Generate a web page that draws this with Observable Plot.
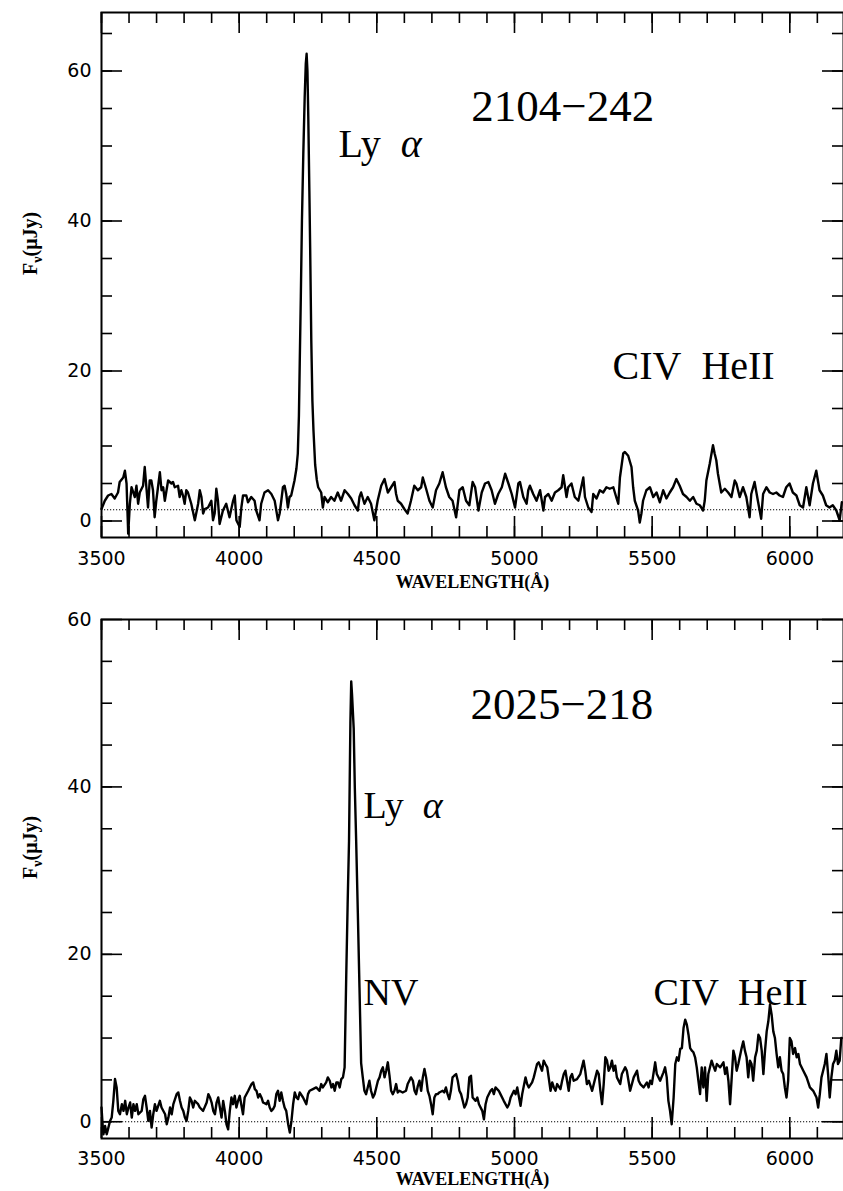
<!DOCTYPE html>
<html><head><meta charset="utf-8">
<script src="https://cdn.jsdelivr.net/npm/d3@7"></script>
<script src="https://cdn.jsdelivr.net/npm/@observablehq/plot@0.6"></script>
<style>
html,body{margin:0;padding:0;background:#fff;overflow:hidden;}
svg{display:block;}
</style></head><body>
<div id="top"></div><div id="bot"></div>
<script>
// ---------- data ----------
const xTickLabels = [3500, 4000, 4500, 5000, 5500, 6000];
const yTickLabels1 = [0, 20, 40, 60];
const yTickLabels2 = [0, 20, 40, 60];

// panel 1: 2104-242
const wave1 = [
3500,3512,3524,3536,3548,3560,3566,3579,3585,3591,
3597,3603,3609,3621,3627,3633,3639,3651,3657,3663,
3669,3675,3681,3687,3693,3699,3712,3718,3724,3730,
3742,3754,3760,3766,3778,3784,3790,3796,3802,3808,
3814,3826,3839,3851,3857,3863,3869,3875,3887,3899,
3905,3911,3917,3923,3929,3941,3953,3965,3978,3984,
3990,4002,4008,4014,4026,4032,4044,4056,4062,4074,
4080,4092,4105,4117,4129,4141,4147,4153,4159,4165,
4171,4177,4183,4189,4201,4208,4213,4217,4220,4224,
4228,4233,4238,4242,4245,4248,4251,4255,4258,4262,
4266,4270,4276,4282,4287,4298,4304,4310,4322,4334,
4346,4358,4370,4383,4395,4407,4419,4431,4437,4443,
4455,4467,4479,4491,4503,4516,4528,4540,4552,4564,
4570,4576,4588,4600,4612,4624,4636,4649,4661,4667,
4679,4691,4703,4715,4727,4739,4751,4763,4775,4788,
4800,4812,4824,4836,4848,4857,4869,4881,4893,4905,
4917,4929,4941,4954,4966,4978,4990,5002,5014,5020,
5032,5044,5050,5056,5068,5080,5093,5105,5111,5123,
5135,5147,5159,5171,5177,5189,5195,5207,5219,5232,
5250,5256,5268,5280,5286,5298,5310,5322,5334,5346,
5359,5371,5377,5383,5395,5401,5413,5425,5431,5437,
5449,5455,5461,5467,5479,5492,5504,5516,5528,5540,
5552,5564,5576,5588,5600,5612,5625,5637,5649,5661,
5673,5685,5691,5697,5709,5721,5727,5733,5739,5751,
5764,5776,5788,5800,5806,5818,5830,5842,5854,5860,
5872,5884,5896,5903,5915,5927,5939,5951,5963,5975,
5987,5999,6011,6024,6036,6048,6060,6072,6084,6096,
6108,6120,6132,6144,6156,6169,6181,6189];
const flux1 = [
1.6,2.7,3.4,3.6,3.0,3.8,5.2,5.8,6.7,5.0,
-1.7,2.3,4.5,3.2,4.7,2.3,3.8,4.7,7.2,4.5,
1.8,5.4,5.4,4.1,0.5,2.7,6.5,4.1,4.5,2.7,
5.4,5.0,5.2,4.5,4.7,3.2,4.1,3.4,2.3,4.1,
3.8,2.3,0.1,2.3,4.1,3.2,1.0,1.6,1.8,2.7,
0.1,1.0,4.3,2.7,-0.4,1.4,2.3,0.5,2.7,3.4,
0.1,-0.8,1.8,3.4,3.4,2.5,3.2,2.7,1.4,0.1,
2.3,3.8,4.1,3.6,2.7,0.1,1.0,2.7,4.5,4.7,
3.6,1.8,3.2,3.4,5.4,7.0,9.0,14,21,30,
40,49,56.5,61,62.3,60,54,44,36,24,
16,12,7.5,5.5,4.5,3.8,1.8,3.2,2.5,3.2,
2.7,3.8,2.7,4.1,3.6,3.0,2.1,1.4,3.2,3.8,
2.3,3.2,2.3,0.1,2.7,4.7,5.6,3.8,4.5,5.2,
3.6,2.7,2.3,1.6,1.0,2.7,4.7,4.1,4.5,5.8,
4.3,2.7,1.8,4.1,5.0,6.5,4.5,3.2,2.7,0.5,
4.1,4.5,2.7,2.1,5.2,4.5,1.4,3.8,5.0,5.2,
4.1,2.3,3.6,4.5,6.3,5.0,3.6,1.8,5.0,5.2,
3.2,2.3,4.1,4.7,3.6,2.7,4.1,1.4,3.2,3.6,
2.7,3.8,4.1,4.5,6.1,3.2,4.5,5.0,3.2,2.7,
5.8,3.2,1.8,1.2,3.6,3.0,4.1,3.8,4.5,4.3,
4.5,3.0,2.3,5.8,9.0,9.2,8.7,7.2,4.5,2.7,
1.4,-0.2,1.0,2.7,4.1,4.5,3.2,3.8,2.5,4.1,
3.0,3.8,4.5,5.6,4.7,3.6,3.2,2.7,3.2,2.3,
2.1,1.4,2.7,5.4,7.6,10.1,9.0,8.1,6.3,3.8,
4.3,3.8,3.2,5.4,5.0,3.2,4.5,3.2,0.5,3.6,
5.2,2.7,0.3,3.6,4.5,3.8,3.6,3.8,3.4,3.2,
4.5,5.0,3.8,3.4,2.1,1.8,4.5,2.1,5.0,6.7,
4.1,3.4,2.1,1.8,2.1,1.4,0.1,2.5];
const baseline1 = 1.5;
const labelText1 = ["2104\u2212242", "Ly\u00a0\u00a0\u03b1", "CIV\u00a0\u00a0HeII"];
const labelX1 = [4843, 4361, 5356];
const labelY1 = [53.4, 48.5, 19.0];

// panel 2: 2025-218
const wave2 = [
3500,3504,3507,3513,3519,3525,3531,3537,3543,3549,
3555,3561,3567,3574,3580,3586,3592,3598,3604,3610,
3616,3622,3628,3634,3646,3652,3658,3664,3670,3676,
3682,3688,3694,3700,3712,3718,3731,3737,3743,3749,
3755,3761,3773,3779,3785,3791,3797,3803,3809,3815,
3821,3827,3833,3839,3845,3851,3857,3869,3882,3888,
3894,3900,3906,3912,3918,3924,3930,3936,3942,3948,
3954,3960,3966,3972,3978,3984,3990,3996,4002,4014,
4020,4033,4045,4051,4057,4063,4069,4075,4081,4087,
4099,4105,4111,4117,4123,4129,4135,4141,4147,4153,
4159,4165,4171,4178,4184,4190,4196,4202,4208,4214,
4220,4232,4244,4250,4256,4268,4280,4292,4298,4304,
4316,4322,4329,4335,4341,4347,4353,4359,4365,4371,
4377,4383,4389,4394,4399,4404,4407,4410,4416,4420,
4425,4431,4437,4443,4449,4455,4461,4467,4473,4479,
4486,4492,4498,4504,4510,4516,4522,4528,4534,4540,
4546,4552,4558,4564,4570,4576,4582,4594,4606,4612,
4618,4624,4631,4637,4643,4649,4655,4661,4667,4673,
4679,4685,4691,4697,4703,4709,4715,4721,4727,4739,
4745,4751,4757,4763,4769,4775,4781,4788,4794,4800,
4806,4812,4818,4824,4830,4836,4842,4848,4859,4865,
4871,4883,4889,4895,4901,4913,4919,4925,4931,4943,
4949,4961,4974,4980,4986,4998,5004,5010,5022,5028,
5040,5046,5052,5064,5070,5076,5082,5088,5100,5106,
5112,5119,5131,5137,5143,5149,5155,5167,5173,5179,
5185,5191,5197,5203,5209,5215,5227,5239,5245,5251,
5257,5263,5270,5282,5294,5300,5306,5312,5318,5324,
5330,5336,5342,5348,5354,5360,5366,5372,5384,5390,
5402,5408,5420,5433,5445,5451,5457,5469,5481,5487,
5493,5499,5511,5517,5529,5541,5547,5553,5559,5565,
5571,5578,5584,5590,5596,5602,5608,5614,5620,5626,
5632,5638,5644,5650,5656,5662,5668,5674,5680,5686,
5692,5698,5704,5716,5722,5729,5735,5747,5759,5765,
5771,5777,5783,5789,5795,5801,5807,5813,5825,5831,
5837,5843,5849,5855,5861,5867,5874,5880,5886,5892,
5898,5904,5910,5916,5922,5928,5934,5940,5946,5952,
5958,5964,5970,5976,5982,5988,5994,6000,6006,6012,
6019,6025,6031,6037,6049,6061,6073,6085,6097,6103,
6109,6115,6121,6127,6133,6139,6145,6151,6157,6163,
6169,6175,6181,6187];
const flux2 = [
1.7,-0.3,-1.5,-0.5,-1.5,-0.7,0.1,0.5,2.5,5.1,
4.1,1.3,0.9,2.1,1.3,2.5,0.9,1.7,2.3,0.5,
2.1,1.3,2.1,0.9,1.3,2.7,3.1,1.7,0.1,1.3,
-0.7,0.9,2.1,1.3,2.5,1.7,0.9,-0.3,0.5,1.7,
0.9,2.1,3.3,3.5,2.5,1.7,1.3,0.5,0.1,1.3,
2.9,2.5,1.7,2.5,2.3,2.1,1.7,1.3,2.3,3.3,
2.9,2.3,1.3,0.9,2.3,2.9,1.7,0.5,2.5,1.3,
-0.3,-0.9,1.3,2.9,2.1,3.1,1.7,2.5,3.1,0.9,
2.9,3.7,4.5,4.7,3.9,3.7,2.9,3.3,2.9,2.3,
2.1,2.5,1.7,1.3,1.5,1.9,3.3,3.7,2.5,3.5,
2.5,1.7,1.3,-0.3,-1.3,0.1,2.1,3.5,2.9,2.7,
3.5,2.9,2.1,3.3,3.7,3.9,4.1,3.7,4.5,4.1,
4.7,5.3,4.9,4.1,4.5,3.7,4.7,4.7,4.1,5.1,
5.3,6.5,17.6,26,33.5,47.7,52.6,51,47,40,
33.5,25,16,7,5.3,3.7,3.3,4.1,4.9,3.7,
2.9,3.3,4.1,4.9,5.3,6.1,6.5,5.3,6.1,7.1,
5.5,3.7,3.3,3.7,4.5,3.5,3.7,3.5,3.7,4.5,
4.9,5.3,4.9,3.7,3.3,4.3,4.9,3.7,5.3,6.3,
5.3,3.7,3.1,2.1,0.9,2.9,3.3,3.3,3.5,3.7,
3.5,4.1,3.3,2.7,3.7,5.3,5.5,5.7,4.9,3.7,
3.3,2.5,1.7,2.1,2.9,5.3,5.5,2.9,2.5,2.9,
2.1,1.3,0.3,2.1,2.9,3.7,3.9,3.3,4.1,3.7,
3.3,2.5,1.7,2.1,2.9,3.7,3.3,4.1,1.9,3.3,
5.3,4.5,4.1,4.7,5.3,6.1,6.9,7.1,6.1,7.3,
6.9,6.5,3.7,4.7,4.1,3.7,4.5,3.9,4.9,5.7,
6.1,4.9,3.7,5.3,5.7,4.9,5.1,5.7,6.5,7.3,
6.1,4.5,4.9,3.7,5.3,6.1,5.7,3.7,2.1,4.5,
7.7,7.3,6.1,6.5,7.3,6.1,6.7,5.3,4.5,5.7,
6.5,6.1,3.7,5.3,6.1,4.9,4.5,4.1,4.7,4.1,
4.9,4.5,7.1,5.7,4.9,5.9,6.5,5.3,2.5,1.3,
-0.3,2.9,6.9,7.7,7.3,8.7,8.8,11.2,12.2,11.6,
10.4,8.8,8.5,8.3,7.7,6.5,4.9,3.3,6.5,4.1,
6.5,2.5,5.7,7.3,6.7,6.1,6.9,6.5,7.1,5.7,
6.5,4.9,2.1,5.3,8.5,7.7,6.1,6.9,8.8,9.6,
8.5,7.7,5.3,7.3,6.9,4.9,7.7,8.5,10.4,10.0,
8.5,5.7,8.5,10.8,12.0,14.0,12.8,10.8,10.0,8.1,
6.5,7.7,6.1,5.7,4.1,2.9,4.9,10.0,9.6,8.1,
8.8,7.7,8.1,6.9,6.1,5.3,4.1,3.7,2.9,1.7,
3.3,5.3,6.1,6.9,8.1,5.7,2.9,5.3,6.9,7.3,
8.5,6.9,7.3,10.0];
const baseline2 = 0;
const labelText2 = ["2025\u2212218", "Ly\u00a0\u00a0\u03b1", "NV", "CIV\u00a0\u00a0HeII"];
const labelX2 = [4840, 4452, 4452, 5505];
const labelY2 = [48.1, 36.3, 13.9, 13.9];

// ---------- drawing ----------
const W = 843, ML = 101, MR = 0;
const xDomain = [3500, 6195];
const xMinor = d3.range(3500, 6195, 100);
const serif = "'Liberation Serif', 'Times New Roman', serif";

function panel(o) {
  const ph = o.height - o.marginTop - o.marginBottom;
  const pw = W - ML - MR;
  const data = o.wave.map((w, i) => ({w, f: o.flux[i]}));
  const ann = o.text.map((t, i) => ({t, x: o.lx[i], y: o.ly[i], big: i === 0}));
  const yMinor = d3.range(0, o.yDomain[1], 5);
  const tick = {stroke: "#000", strokeWidth: 1.6};
  const svg = Plot.plot({
    width: W, height: o.height,
    marginLeft: ML, marginRight: MR, marginTop: o.marginTop, marginBottom: o.marginBottom,
    x: {domain: xDomain, axis: null},
    y: {domain: o.yDomain, axis: null},
    style: {fontFamily: "'DejaVu Sans', sans-serif", background: "#fff", color: "#000", overflow: "visible"},
    marks: [
      Plot.ruleY([o.baseline], {stroke: "#000", strokeWidth: 1, strokeDasharray: "1.2,1.8"}),
      Plot.line(data, {x: "w", y: "f", stroke: "#000", strokeWidth: 2.4}),
      Plot.frame({stroke: "#000", strokeWidth: 2}),
      Plot.ruleX(xMinor, {...tick, insetTop: ph - 11}),
      Plot.ruleX(xMinor, {...tick, insetBottom: ph - 11}),
      Plot.ruleX(xTickLabels, {...tick, insetTop: ph - 21}),
      Plot.ruleX(xTickLabels, {...tick, insetBottom: ph - 21}),
      Plot.ruleY(yMinor, {...tick, insetRight: pw - 11}),
      Plot.ruleY(yMinor, {...tick, insetLeft: pw - 11}),
      Plot.ruleY(o.yTicks, {...tick, insetRight: pw - 21}),
      Plot.ruleY(o.yTicks, {...tick, insetLeft: pw - 21}),
      Plot.text(xTickLabels, {x: d => d, text: d => String(d), frameAnchor: "bottom", dy: o.tickDy, lineAnchor: "bottom", fontSize: 19, fill: "#000"}),
      Plot.text(o.yTicks, {y: d => d, text: d => String(d), frameAnchor: "left", dx: -10, textAnchor: "end", lineAnchor: "middle", fontSize: 19, fill: "#000"}),
      Plot.text(["WAVELENGTH(\u00c5)"], {frameAnchor: "bottom", dy: o.titleDy, lineAnchor: "bottom", fontFamily: serif, fontWeight: "bold", fontSize: 18, fill: "#000"}),
      Plot.text(["F\u03bd(\u03bcJy)"], {frameAnchor: "left", dx: -71, rotate: -90, lineAnchor: "middle", fontFamily: serif, fontWeight: "bold", fontSize: 20, fill: "#000"}),
      Plot.text(ann, {x: "x", y: "y", text: "t", textAnchor: "start", lineAnchor: "bottom", fontFamily: serif,
        fontSize: d => d.big ? 45 : o.annSize, fill: "#000"})
    ]
  });
  svg.querySelectorAll("text").forEach(t => {
    const s = t.textContent;
    if (s === "F\u03bd(\u03bcJy)") {
      t.innerHTML = 'F<tspan dy="5" font-size="14">\u03bd</tspan><tspan dy="-5">(\u03bcJy)</tspan>';
    } else if (s === "Ly\u00a0\u00a0\u03b1") {
      t.innerHTML = 'Ly\u00a0\u00a0<tspan font-style="italic">\u03b1</tspan>';
    }
  });
  return svg;
}

document.getElementById("top").appendChild(panel({
  wave: wave1, flux: flux1, baseline: baseline1, yDomain: [-2.2, 67.8], yTicks: yTickLabels1,
  height: 600, marginTop: 12, marginBottom: 63, tickDy: 27, titleDy: 50,
  text: labelText1, lx: labelX1, ly: labelY1, annSize: 40
}));
document.getElementById("bot").appendChild(panel({
  wave: wave2, flux: flux2, baseline: baseline2, yDomain: [-2.0, 60], yTicks: yTickLabels2,
  height: 591, marginTop: 19, marginBottom: 53, tickDy: 26, titleDy: 46,
  text: labelText2, lx: labelX2, ly: labelY2, annSize: 38
}));
</script>
</body></html>
